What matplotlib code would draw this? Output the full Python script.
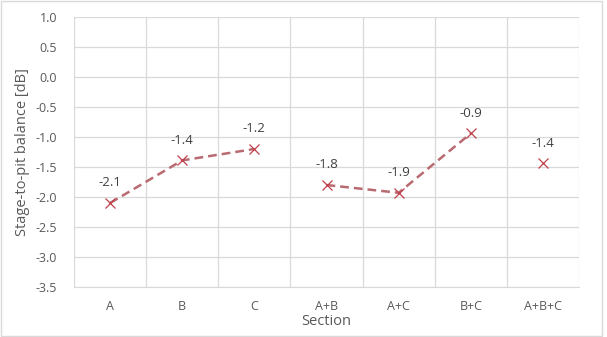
import numpy as np
import matplotlib.pyplot as plt

plt.rcParams['font.family'] = ['Open Sans', 'DejaVu Sans']

sections = ["A", "B", "C", "A+B", "A+C", "B+C", "A+B+C"]
balance = [-2.1, -1.39, -1.2, -1.8, -1.93, -0.94, -1.44]
# which points are joined by a dashed line
groups = [[0, 1, 2], [3, 4, 5], [6]]

text_col = "#595959"
grid_col = "#d9d9d9"

fig = plt.figure(figsize=(6.07, 3.37), dpi=100)
ax = fig.add_axes([74/607, 1 - 287/337, (579 - 74)/607, (287 - 17)/337])

x = np.arange(len(sections))
for g in groups:
    xs = [x[i] for i in g]
    ys = [balance[i] for i in g]
    if len(g) > 1:
        ax.plot(xs, ys, linestyle=(0, (3.5, 2)), color="#b86a70", linewidth=1.8, zorder=2)
    ax.plot(xs, ys, linestyle="none", marker="x", markersize=7.5,
            markeredgewidth=0.9, color="#c0404a", zorder=3)

for xi, v in zip(x, balance):
    ax.annotate(f"{v:.1f}", (xi, v), xytext=(0, 10), textcoords="offset points",
                ha="center", va="bottom", fontsize=9.5, color="#404040")

ax.set_xlim(-0.5, len(sections) - 0.5)
ax.set_ylim(-3.5, 1.0)
ax.set_yticks(np.arange(-3.5, 1.01, 0.5))
ax.set_yticklabels([f"{t:.1f}" for t in np.arange(-3.5, 1.01, 0.5)])
ax.set_xticks(x)
ax.set_xticklabels(sections)
ax.set_xticks(np.arange(-0.5, len(sections)), minor=True)
ax.tick_params(which="both", length=0, colors=text_col, labelsize=9, pad=9)
ax.tick_params(axis="y", pad=12)

ax.grid(True, which="major", axis="y", color=grid_col, linewidth=0.9)
ax.grid(True, which="minor", axis="x", color=grid_col, linewidth=0.9)
ax.set_axisbelow(True)
for s in ["top", "right", "left"]:
    ax.spines[s].set_visible(False)
ax.spines["bottom"].set_color(grid_col)

ax.set_xlabel("Section", color=text_col, fontsize=10.5, labelpad=1)
ax.set_ylabel("Stage-to-pit balance [dB]", color=text_col, fontsize=10.5, labelpad=4)

# light frame round the whole chart
fig.patches.append(plt.Rectangle((0.002, 0.003), 0.99, 0.993, transform=fig.transFigure,
                                 fill=False, edgecolor=grid_col, linewidth=1.0))

fig.savefig("out.png", dpi=100)
